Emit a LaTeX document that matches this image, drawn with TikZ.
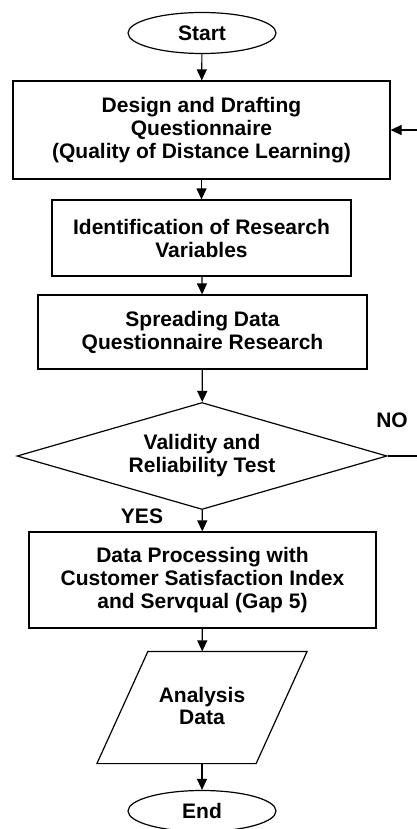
\documentclass[tikz,border=0pt]{standalone}
\usepackage{fontspec}
\setmainfont{Liberation Sans}
\usetikzlibrary{shapes.geometric, arrows.meta}
\usetikzlibrary{math}
\tikzstyle{startstop} = [ellipse, minimum width=148pt, minimum height=41pt, inner sep=0pt, text centered, draw=black, fill=white]
\tikzstyle{process} = [rectangle, inner sep=0pt, align=center, draw=black, fill=white]
\tikzstyle{decision} = [diamond, shape aspect=3.46, minimum width=370pt, minimum height=107pt, inner sep=0pt, align=center, draw=black, fill=white]
\tikzstyle{io} = [rectangle, minimum width=158pt, minimum height=111pt, inner sep=0pt, align=center]
\tikzstyle{arrow} = [-{Triangle[length=11pt,width=10pt]}]

\begin{document}
\begin{tikzpicture}[x=1pt, y=-1pt, line width=1.2pt, font=\fontsize{21}{23}\selectfont\bfseries]

  \tikzmath{\cx = 202; \xr = 430; \sl = 25.5;}

  \useasboundingbox (0,0) rectangle (417,829);

  % flow column
  \node (start) [startstop] at (\cx,33) {Start};
  \node (design) [process, minimum width=377pt, minimum height=98pt] at (201.5,130)
    {Design and Drafting\\Questionnaire\\(Quality of Distance Learning)};
  \node (ident) [process, minimum width=299pt, minimum height=76pt] at (201.5,238)
    {Identification of Research\\Variables};
  \node (spread) [process, minimum width=329pt, minimum height=74pt] at (202.5,332)
    {Spreading Data\\Questionnaire Research};
  \node (test) [decision] at (\cx,456) {Validity and\\Reliability Test};
  \node (proc) [process, minimum width=347pt, minimum height=96pt] at (202.5,580)
    {Data Processing with\\Customer Satisfaction Index\\and Servqual (Gap 5)};
  \node (anal) [io] at (\cx,707.5) {\raisebox{3pt}{\shortstack{Analysis\\Data}}};
  \node (stop) [startstop] at (\cx,811) {End};

  % parallelogram round the data node
  \draw ([xshift=-\sl pt]anal.south west) -- ([xshift=\sl pt]anal.north west)
    -- ([xshift=\sl pt]anal.north east) -- ([xshift=-\sl pt]anal.south east) -- cycle;

  % labels
  \node (no) at (392,420) {NO};
  \node (yes) at (142,516) {YES};

  % connectors
  \draw[arrow] (start) -- (design);
  \draw[arrow] (design) -- (ident);
  \draw[arrow] (ident) -- (spread);
  \draw[arrow] (spread) -- (test);
  \draw[arrow] (test) -- (proc);
  \draw[arrow] (proc) -- (anal);
  \draw[arrow] (anal) -- (stop);

  % back to design
  \coordinate (loop) at (\xr,0);
  \draw[arrow] (test.east) -- (test.east -| loop) -- (design.east -| loop) -- (design.east);

\end{tikzpicture}
\end{document}
